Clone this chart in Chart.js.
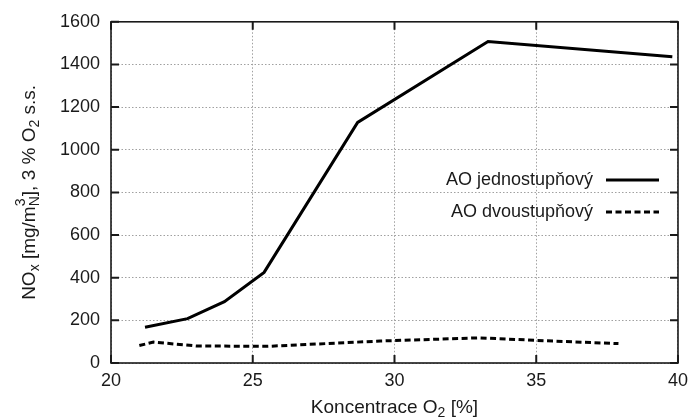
<!DOCTYPE html>
<html lang="cs">
<head>
    <meta charset="UTF-8">
    <title>NOx vs. koncentrace O2</title>
    <script src="https://cdn.jsdelivr.net/npm/chart.js"></script>
    <style>
        body {
            margin: 0;
            background: #fff;
        }
        #wrap {
            width: 695px;
            height: 417px;
            position: relative;
        }
    </style>
</head>
<body>
    <div id="wrap"><canvas id="noxChart"></canvas></div>

    <script>
        // data
        const seriesNames = ['AO jednostupňový', 'AO dvoustupňový'];
        const o2Single = [21.2, 22.7, 24.0, 25.4, 28.7, 33.3, 39.8];
        const noxSingle = [168, 208, 288, 425, 1128, 1508, 1436];
        const o2Double = [21.0, 21.5, 23.0, 25.5, 29.5, 33.0, 35.0, 37.9];
        const noxDouble = [82, 98, 80, 78, 103, 118, 106, 91];
        const xTicks = [20, 25, 30, 35, 40];
        const yTicks = [0, 200, 400, 600, 800, 1000, 1200, 1400, 1600];

        const FONT = '"Liberation Sans", Arial, sans-serif';
        const FS = 18;     // ticks + legend
        const TFS = 19;    // axis titles
        const INK = '#1a1a1a';

        function toPoints(xs, ys) {
            return xs.map((x, i) => ({ x: x, y: ys[i] }));
        }

        // text with sub/superscripts, drawn centred at (0,0) of current transform
        function drawRich(ctx, parts, fs) {
            const small = Math.round(fs * 0.72);
            let total = 0;
            parts.forEach(p => {
                ctx.font = (p.k === 'n' ? fs : small) + 'px ' + FONT;
                if (p.k === 'subsup') {
                    p.w = Math.max(ctx.measureText(p.t).width, ctx.measureText(p.s).width);
                } else {
                    p.w = ctx.measureText(p.t).width;
                }
                total += p.w;
            });
            let x = -total / 2;
            ctx.textAlign = 'left';
            ctx.textBaseline = 'alphabetic';
            ctx.fillStyle = INK;
            const base = fs * 0.36;
            parts.forEach(p => {
                if (p.k === 'n') {
                    ctx.font = fs + 'px ' + FONT;
                    ctx.fillText(p.t, x, base);
                } else {
                    ctx.font = small + 'px ' + FONT;
                    if (p.k === 'sub' || p.k === 'subsup') ctx.fillText(p.t, x, base + 4);
                    if (p.k === 'subsup') ctx.fillText(p.s, x, base - 10);
                }
                x += p.w;
            });
        }

        const framePlugin = {
            id: 'frame',
            afterDraw(chart) {
                const ctx = chart.ctx;
                const a = chart.chartArea;
                const xs = chart.scales.x, ys = chart.scales.y;
                ctx.save();
                ctx.strokeStyle = INK;
                ctx.lineWidth = 1.6;
                ctx.strokeRect(a.left, a.top, a.right - a.left, a.bottom - a.top);
                ctx.lineWidth = 2;
                ctx.beginPath();
                const tl = 8;
                yTicks.forEach(v => {
                    const py = ys.getPixelForValue(v);
                    ctx.moveTo(a.left, py); ctx.lineTo(a.left + tl, py);
                    ctx.moveTo(a.right, py); ctx.lineTo(a.right - tl, py);
                });
                xTicks.forEach(v => {
                    const px = xs.getPixelForValue(v);
                    ctx.moveTo(px, a.bottom); ctx.lineTo(px, a.bottom - tl);
                    ctx.moveTo(px, a.top); ctx.lineTo(px, a.top + tl);
                });
                ctx.stroke();

                // legend: text right aligned, sample on the right
                const textRight = 593, lx0 = 606, lx1 = 659;
                const rows = [180, 212];
                chart.data.datasets.forEach((ds, i) => {
                    const y = rows[i];
                    ctx.font = FS + 'px ' + FONT;
                    ctx.fillStyle = INK;
                    ctx.textAlign = 'right';
                    ctx.textBaseline = 'middle';
                    ctx.fillText(ds.label, textRight, y);
                    ctx.beginPath();
                    ctx.strokeStyle = ds.borderColor;
                    ctx.lineWidth = ds.borderWidth;
                    ctx.setLineDash(ds.borderDash || []);
                    ctx.moveTo(lx0, y); ctx.lineTo(lx1, y);
                    ctx.stroke();
                    ctx.setLineDash([]);
                });

                // axis titles
                ctx.save();
                ctx.translate((a.left + a.right) / 2, 406);
                drawRich(ctx, [
                    { t: 'Koncentrace O', k: 'n' },
                    { t: '2', k: 'sub' },
                    { t: ' [%]', k: 'n' }
                ], TFS);
                ctx.restore();

                ctx.save();
                ctx.translate(28, (a.top + a.bottom) / 2);
                ctx.rotate(-Math.PI / 2);
                drawRich(ctx, [
                    { t: 'NO', k: 'n' },
                    { t: 'x', k: 'sub' },
                    { t: ' [mg/m', k: 'n' },
                    { t: 'N', s: '3', k: 'subsup' },
                    { t: '], 3 % O', k: 'n' },
                    { t: '2', k: 'sub' },
                    { t: ' s.s.', k: 'n' }
                ], TFS);
                ctx.restore();
                ctx.restore();
            }
        };

        const ctx = document.getElementById('noxChart').getContext('2d');
        const noxChart = new Chart(ctx, {
            type: 'line',
            data: {
                datasets: [
                    {
                        label: seriesNames[0],
                        data: toPoints(o2Single, noxSingle),
                        borderColor: '#000',
                        borderWidth: 3,
                        pointRadius: 0,
                        tension: 0
                    },
                    {
                        label: seriesNames[1],
                        data: toPoints(o2Double, noxDouble),
                        borderColor: '#000',
                        borderWidth: 3,
                        borderDash: [6, 3.5],
                        pointRadius: 0,
                        tension: 0
                    }
                ]
            },
            options: {
                responsive: true,
                maintainAspectRatio: false,
                animation: false,
                layout: {
                    padding: { left: 0, top: 21, right: 12, bottom: 0 }
                },
                plugins: {
                    legend: { display: false },
                    tooltip: { enabled: false }
                },
                scales: {
                    x: {
                        type: 'linear',
                        min: 20,
                        max: 40,
                        afterFit(scale) { scale.height = 54; },
                        afterBuildTicks(scale) { scale.ticks = xTicks.map(v => ({ value: v })); },
                        ticks: {
                            color: INK,
                            padding: 7,
                            font: { family: FONT, size: FS },
                            callback: v => String(v)
                        },
                        grid: {
                            color: '#a0a0a0',
                            lineWidth: 1,
                            drawTicks: false
                        },
                        border: { display: false, dash: [1.5, 2] }
                    },
                    y: {
                        min: 0,
                        max: 1600,
                        afterFit(scale) { scale.width = 111; },
                        afterBuildTicks(scale) { scale.ticks = yTicks.map(v => ({ value: v })); },
                        ticks: {
                            color: INK,
                            padding: 11,
                            font: { family: FONT, size: FS },
                            callback: v => String(v)
                        },
                        grid: {
                            color: '#a0a0a0',
                            lineWidth: 1,
                            drawTicks: false
                        },
                        border: { display: false, dash: [1.5, 2] }
                    }
                }
            },
            plugins: [framePlugin]
        });
    </script>
</body>
</html>
